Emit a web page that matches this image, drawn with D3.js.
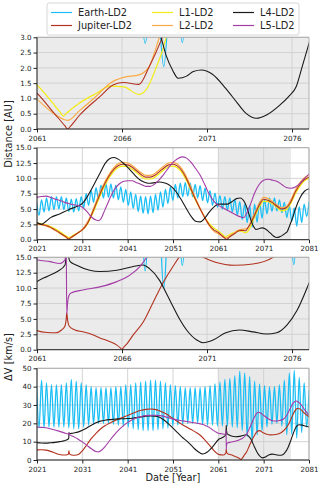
<!DOCTYPE html>
<html>
<head>
<meta charset="utf-8">
<script src="https://cdn.jsdelivr.net/npm/d3@7"></script>
<style>
  body { margin: 0; background: #fff; }
  svg { font-family: "DejaVu Sans", sans-serif; display: block; }
</style>
</head>
<body>
<div id="chart"></div>
<script>
/* distance and delta-v to the LD2 targets, full run and zoomed window */

let width = 321,
    height = 488,
    left = 37,
    right = 309;

const names = ["Earth-LD2", "Jupiter-LD2", "L1-LD2", "L2-LD2", "L4-LD2", "L5-LD2"];
const colors = ["#1cbff5", "#b2321f", "#f3ec12", "#fbab45", "#1a1a1a", "#a33ca6"];

const zoomYears = [2061, 2066, 2071, 2076];
const fullYears = [2021, 2031, 2041, 2051, 2061, 2071, 2081];
const zoomDomain = [2061, 2077];
const fullDomain = [2021, 2081];
const shade = [2061, 2077];
const distZoomTicks = [0, 0.5, 1, 1.5, 2, 2.5, 3];
const distTicks = [0, 2.5, 5, 7.5, 10, 12.5, 15];
const dvTicks = [0, 10, 20, 30, 40, 50];

// Earth: alternating peak / trough every half synodic period
const earthStart = 2020.91, earthStep = 0.5465;
const earthDist = [
  6.0, 4.0, 6.5, 4.5, 6.8, 4.7, 7.0, 4.9, 7.0, 5.0, 7.0, 4.9, 6.8, 4.6, 6.6, 4.5,
  6.7, 4.7, 7.0, 5.2, 7.5, 5.6, 8.0, 6.1, 8.5, 6.5, 8.9, 6.8, 9.1, 6.9, 9.1, 6.8,
  8.9, 6.5, 8.6, 6.1, 8.2, 5.6, 7.8, 5.1, 7.4, 4.6, 7.1, 4.3, 7.0, 4.2, 7.1, 4.4,
  7.4, 4.8, 7.8, 5.3, 8.2, 5.9, 8.6, 6.4, 9.0, 6.8, 9.2, 7.0, 9.3, 7.1, 9.2, 7.0,
  9.0, 6.8, 8.8, 6.4, 8.4, 6.0, 8.0, 5.6, 7.6, 5.3, 7.2, 5.0, 7.0, 4.8, 6.8, 4.5,
  6.6, 4.0, 6.2, 3.3, 5.8, 2.8, 5.6, 2.04, 5.8, 2.83, 6.2, 3.5, 6.6, 4.2, 6.8, 4.6,
  6.8, 4.7, 6.5, 4.4, 6.1, 3.6, 5.6, 3.0, 5.2, 2.2, 5.4, 2.8, 5.8, 3.8, 6.2
];
const earthDv = [
  40, 17.5, 43.5, 17.5, 42, 18, 41, 18, 41, 18, 41, 18, 42, 17.5, 44, 17,
  43, 17, 42, 18, 41, 19, 40, 19.5, 39.5, 20, 39.5, 20, 39.5, 20, 39.5, 19.5,
  40, 19, 40, 18.5, 41, 18, 41, 17, 42, 16.5, 42.5, 16, 43, 16, 43.5, 16,
  43.5, 16.5, 43, 17, 42, 17.5, 41, 18.5, 40.5, 19, 40, 19.5, 39.5, 20, 39.5, 20,
  39.5, 20, 39.5, 19.5, 40, 19, 40.5, 19, 41.5, 18.5, 42.5, 18.5, 44, 18.5, 44.5, 18,
  46, 17.5, 48.5, 16, 47.5, 12.8, 45.5, 10.0, 43, 13.7, 41.5, 16, 40.5, 18, 40, 19.5,
  40, 20, 41, 18.5, 43.5, 13.8, 47.5, 14, 49, 12, 45, 15, 42, 18, 38
];

// [year, distance AU]
const jupiterDist = [
  [2021, 2.6], [2022, 2.5], [2023.5, 2.2], [2025, 1.6], [2026.5, 0.9], [2027.8, 0.2], [2028, 0.03],
  [2028.2, 0.2], [2029, 0.6], [2030, 1.1], [2031, 1.6], [2032, 2.5], [2033, 4.0], [2034, 5.8],
  [2035, 7.6], [2036, 9.2], [2037, 10.5], [2038, 11.5], [2039, 12.1], [2040, 12.3], [2041, 12.2],
  [2042, 11.8], [2043, 11.2], [2044, 10.6], [2045, 10.2], [2046, 10.2], [2047, 10.5], [2048, 11.1],
  [2049, 11.7], [2050, 12.2], [2051, 12.3], [2052, 12.0], [2053, 11.2], [2054, 9.9], [2055, 8.2],
  [2056, 6.5], [2057, 5.0], [2058, 3.6], [2059, 2.4], [2060, 1.6], [2061, 1.17], [2062, 0.52],
  [2062.65, 0.1], [2062.8, 0.0], [2062.95, 0.08], [2063.5, 0.45], [2064.7, 1.06], [2065.5, 1.45],
  [2066.1, 1.52], [2067.0, 1.46], [2067.6, 2.04], [2068.3, 2.9], [2069, 4.0], [2070, 5.6],
  [2071, 6.6], [2072, 6.4], [2073, 6.0], [2074, 5.4], [2075, 5.0], [2076, 5.2], [2077, 6.2],
  [2078, 7.8], [2079, 9.0], [2080, 9.8], [2081, 10.2]
];
const l1Dist = [
  [2021, 2.7], [2022, 2.6], [2023.5, 2.3], [2025, 1.8], [2026.5, 1.1], [2027.6, 0.5], [2028, 0.35],
  [2028.4, 0.45], [2029, 0.75], [2030, 1.15], [2031, 1.6], [2032, 2.4], [2033, 3.8], [2034, 5.5],
  [2035, 7.3], [2036, 8.9], [2037, 10.2], [2038, 11.2], [2039, 11.8], [2040, 12.0], [2041, 11.9],
  [2042, 11.5], [2043, 10.9], [2044, 10.3], [2045, 9.9], [2046, 9.9], [2047, 10.2], [2048, 10.8],
  [2049, 11.4], [2050, 11.9], [2051, 12.0], [2052, 11.7], [2053, 10.9], [2054, 9.6], [2055, 8.0],
  [2056, 6.4], [2057, 5.0], [2058, 3.7], [2059, 2.6], [2060, 1.9], [2061, 1.44], [2062, 0.8],
  [2062.4, 0.52], [2062.55, 0.42], [2062.7, 0.5], [2063.5, 0.85], [2064.5, 1.17], [2065.3, 1.4],
  [2066.1, 1.38], [2067.0, 1.13], [2067.5, 1.35], [2068.0, 2.0], [2068.4, 2.6], [2068.6, 3.0],
  [2069, 3.7], [2070, 5.3], [2071, 6.3], [2072, 6.2], [2073, 5.8], [2074, 5.2], [2075, 4.7],
  [2076, 4.9], [2077, 5.9], [2078, 7.5], [2079, 8.7], [2080, 9.6], [2081, 10.0]
];
const l2Dist = [
  [2021, 2.5], [2022, 2.4], [2023.5, 2.1], [2025, 1.5], [2026.5, 0.8], [2027.7, 0.22], [2028, 0.15],
  [2028.3, 0.22], [2029, 0.55], [2030, 1.1], [2031, 1.7], [2032, 2.7], [2033, 4.2], [2034, 6.1],
  [2035, 7.9], [2036, 9.5], [2037, 10.8], [2038, 11.8], [2039, 12.4], [2040, 12.6], [2041, 12.5],
  [2042, 12.1], [2043, 11.5], [2044, 10.9], [2045, 10.5], [2046, 10.5], [2047, 10.8], [2048, 11.4],
  [2049, 12.0], [2050, 12.5], [2051, 12.6], [2052, 12.3], [2053, 11.5], [2054, 10.2], [2055, 8.5],
  [2056, 6.7], [2057, 5.1], [2058, 3.6], [2059, 2.3], [2060, 1.4], [2061, 0.97], [2062, 0.5],
  [2062.8, 0.28], [2063.5, 0.6], [2064.5, 1.08], [2065.3, 1.5], [2066.1, 1.69], [2067.0, 1.77],
  [2067.6, 2.04], [2067.9, 2.48], [2068.2, 3.0], [2069, 4.3], [2070, 5.9], [2071, 6.9], [2072, 6.7],
  [2073, 6.2], [2074, 5.6], [2075, 5.2], [2076, 5.4], [2077, 6.5], [2078, 8.1], [2079, 9.3],
  [2080, 10.1], [2081, 10.5]
];
const l4Dist = [
  [2021, 2.8], [2022, 2.5], [2023, 3.0], [2024, 3.6], [2026, 4.2], [2028, 4.9], [2030, 5.5],
  [2031, 5.9], [2032, 6.9], [2033, 8.2], [2034, 9.6], [2035, 11.0], [2036, 12.4], [2037, 13.2],
  [2038, 13.4], [2039, 13.1], [2040, 12.5], [2041, 11.8], [2042, 11.0], [2043, 10.2], [2044, 9.6],
  [2045, 9.3], [2046, 9.2], [2047, 9.3], [2048, 9.4], [2049, 9.3], [2050, 9.0], [2051, 8.4],
  [2052, 7.5], [2053, 6.3], [2054, 5.0], [2055, 3.8], [2056, 3.0], [2057, 2.9], [2058, 3.5],
  [2059, 4.5], [2060, 5.3], [2061, 5.8], [2062, 5.8], [2063, 5.8], [2064, 6.2], [2065, 6.7],
  [2065.8, 6.8], [2066.8, 6.1], [2067.5, 4.8], [2068.0, 3.6], [2068.3, 3.0], [2068.6, 2.4],
  [2069.0, 1.9], [2069.3, 1.66], [2069.8, 1.73], [2070.2, 1.88], [2070.67, 1.93], [2071.3, 1.8],
  [2072.1, 1.33], [2072.8, 0.84], [2073.3, 0.51], [2073.9, 0.35], [2074.5, 0.46], [2075.3, 0.79],
  [2075.8, 1.06], [2076.25, 1.39], [2076.6, 2.04], [2077, 2.8], [2077.5, 3.8], [2078, 5.0],
  [2079, 6.8], [2080, 7.9], [2081, 8.3]
];
const l5Dist = [
  [2021, 6.9], [2022, 7.05], [2023, 7.1], [2024, 6.9], [2025, 6.6], [2026, 6.4], [2027, 6.1],
  [2028, 5.9], [2029, 5.7], [2030, 5.6], [2031, 5.3], [2032, 4.6], [2033, 3.7], [2034, 3.2],
  [2034.6, 3.1], [2035, 3.3], [2036, 4.9], [2037, 6.6], [2038, 8.1], [2039, 9.0], [2040, 9.5],
  [2041, 9.6], [2042, 9.6], [2043, 9.3], [2044, 9.0], [2045, 8.7], [2046, 8.7], [2047, 9.1],
  [2048, 9.8], [2049, 10.7], [2050, 11.7], [2051, 12.6], [2052, 13.2], [2053, 13.5], [2054, 13.3],
  [2055, 12.6], [2056, 11.6], [2057, 10.5], [2058, 9.0], [2059, 7.4], [2060, 6.3], [2061, 5.6],
  [2062, 5.2], [2063, 4.8], [2064, 4.4], [2065, 4.0], [2066, 3.7], [2066.6, 3.6], [2067.2, 4.2],
  [2068, 5.6], [2069, 7.6], [2070, 9.0], [2071, 9.7], [2072, 9.85], [2073, 9.7], [2074, 9.5],
  [2075, 9.0], [2076, 8.5], [2077, 8.4], [2078, 8.6], [2079, 9.2], [2080, 10.0], [2081, 10.7]
];

// [year, delta-v km/s]
const jupiterDv = [
  [2021, 5.5], [2022, 5.6], [2023, 5.4], [2024, 4.7], [2025, 3.8], [2026, 3.0], [2027, 2.7],
  [2027.9, 3.2], [2028.0, 4.2], [2028.05, 5.0], [2028.1, 4.0], [2028.3, 3.0], [2029, 2.6],
  [2029.7, 2.7], [2030.3, 3.3], [2031, 5.0], [2032, 8.3], [2033, 11.8], [2034, 14.5], [2035, 16.9],
  [2036, 18.7], [2037, 20.0], [2038, 21.2], [2039, 22.3], [2040, 23.3], [2041, 24.3], [2042, 25.3],
  [2043, 26.3], [2044, 27.1], [2045, 27.6], [2046, 27.8], [2047, 27.6], [2048, 26.9], [2049, 25.8],
  [2050, 24.3], [2051, 22.7], [2052, 21.0], [2053, 19.4], [2054, 18.0], [2055, 16.6], [2056, 15.2],
  [2057, 13.5], [2058, 11.0], [2059, 8.2], [2060, 5.3], [2060.5, 4.0], [2061, 3.1], [2061.6, 2.8],
  [2062.1, 2.76], [2062.45, 3.2], [2062.65, 3.9], [2062.72, 5.0], [2062.75, 6.0], [2062.8, 4.8],
  [2062.9, 3.8], [2063.2, 3.25], [2063.7, 2.9], [2064.2, 2.5], [2064.7, 1.9], [2065.3, 1.3],
  [2065.7, 0.75], [2065.9, 0.3], [2066.0, 0.05], [2066.1, 0.4], [2066.3, 1.0], [2066.66, 2.4],
  [2067.25, 4.5], [2067.8, 7.5], [2068.4, 10.8], [2069, 13.5], [2069.5, 15.4], [2070.1, 16.0],
  [2070.77, 15.0], [2071.5, 14.2], [2072.6, 13.7], [2073.7, 13.9], [2074.9, 15.0], [2075.8, 17.0],
  [2076.7, 20.5], [2077.5, 25.0], [2078.2, 27.8], [2078.6, 28.2], [2079.3, 27.3], [2080, 25.5],
  [2081, 23.6]
];
const l4Dv = [
  [2021, 9.5], [2022, 9.3], [2023, 9.2], [2024, 9.4], [2025, 9.6], [2026, 10.0], [2027, 10.5],
  [2027.95, 11.6], [2028.02, 12.5], [2028.05, 15.0], [2028.12, 14.3], [2028.6, 14.5], [2029, 14.7],
  [2030, 15.2], [2031, 16.2], [2032, 17.5], [2033, 19.0], [2034, 20.3], [2035, 21.2], [2036, 21.7],
  [2037, 22.0], [2038, 22.2], [2039, 22.4], [2040, 22.5], [2041, 22.6], [2042, 22.8], [2043, 23.1],
  [2044, 23.5], [2045, 23.9], [2046, 24.0], [2047, 23.9], [2048, 23.3], [2049, 21.8], [2050, 19.7],
  [2051, 17.4], [2052, 14.9], [2053, 12.5], [2054, 10.4], [2055, 8.1], [2056, 5.6], [2057, 3.8],
  [2057.6, 3.3], [2058.5, 4.2], [2059.1, 5.5], [2060, 8.0], [2061, 11.05], [2061.6, 11.9],
  [2062.2, 12.7], [2062.65, 13.75], [2062.72, 16.5], [2062.75, 19.0], [2062.8, 16.2],
  [2062.95, 14.3], [2063.3, 13.75], [2064.1, 12.9], [2064.7, 12.7], [2065.7, 12.9], [2066.66, 13.5],
  [2067.25, 13.75], [2067.6, 13.2], [2068.2, 11.3], [2068.6, 9.2], [2069.0, 7.0], [2069.4, 4.9],
  [2069.8, 3.2], [2070.4, 1.57], [2070.77, 1.14], [2071.36, 1.57], [2072.1, 2.76], [2072.9, 3.2],
  [2073.7, 2.9], [2074.5, 2.55], [2075.1, 2.76], [2075.7, 4.0], [2076.3, 6.4], [2077, 10.8],
  [2077.6, 15.0], [2078.2, 18.2], [2078.8, 19.2], [2079.5, 19.0], [2080.3, 18.4], [2081, 18.0]
];
const l5Dv = [
  [2021, 18.0], [2022, 17.8], [2023, 17.6], [2024, 17.0], [2025, 16.4], [2026, 15.6], [2027, 14.8],
  [2027.9, 14.2], [2028.05, 14.7], [2028.2, 13.8], [2029, 12.8], [2030, 11.5], [2031, 9.9],
  [2032, 8.0], [2033, 6.1], [2034, 4.6], [2034.5, 4.4], [2035, 4.9], [2036, 7.3], [2037, 10.5],
  [2038, 13.6], [2039, 16.3], [2040, 18.6], [2041, 20.5], [2042, 22.0], [2043, 23.0], [2044, 23.7],
  [2045, 24.2], [2046, 24.4], [2047, 24.4], [2048, 24.2], [2049, 23.8], [2050, 23.1], [2051, 22.3],
  [2052, 21.8], [2053, 21.4], [2054, 21.0], [2055, 20.6], [2056, 20.2], [2057, 19.7], [2058, 19.0],
  [2059, 17.8], [2060, 16.0], [2061, 14.6], [2061.76, 14.3], [2062.35, 14.0], [2062.65, 14.6],
  [2062.72, 16.5], [2062.75, 5.8], [2062.8, 7.6], [2062.88, 8.8], [2063.0, 9.2], [2063.7, 9.7],
  [2064.7, 10.2], [2065.7, 11.05], [2066.46, 12.1], [2067.05, 13.5], [2067.45, 15.0], [2068, 18.0],
  [2068.7, 22.0], [2069.4, 25.3], [2069.8, 26.0], [2070.4, 25.5], [2070.9, 24.5], [2072, 22.5],
  [2073, 21.4], [2073.8, 21.2], [2074.5, 21.5], [2075.3, 22.2], [2076, 24.0], [2076.7, 27.3],
  [2077.5, 31.0], [2078.2, 32.2], [2078.7, 31.5], [2079.3, 30.0], [2080, 27.5], [2081, 24.5]
];

const pairs = a => a.map(([t, v]) => ({ t, v }));
const earthSeries = vals => vals.map((v, i) => ({ t: earthStart + i * earthStep, v }));

// drawing order (Earth underneath)
const series = {
  dist: [
    { c: 0, data: earthSeries(earthDist), w: 1.3 },
    { c: 2, data: pairs(l1Dist), w: 1.2 },
    { c: 3, data: pairs(l2Dist), w: 1.2 },
    { c: 1, data: pairs(jupiterDist), w: 1.1 },
    { c: 4, data: pairs(l4Dist), w: 1.1 },
    { c: 5, data: pairs(l5Dist), w: 1.1 }
  ],
  dv: [
    { c: 0, data: earthSeries(earthDv), w: 1.3 },
    { c: 1, data: pairs(jupiterDv), w: 1.1 },
    { c: 4, data: pairs(l4Dv), w: 1.1 },
    { c: 5, data: pairs(l5Dv), w: 1.1 }
  ]
};

const panels = [
  { top: 37.3, bottom: 129, xd: zoomDomain, xt: zoomYears, yd: [0, 3], yt: distZoomTicks, fmt: ".1f", q: "dist", zoom: true },
  { top: 147.7, bottom: 239.7, xd: fullDomain, xt: fullYears, yd: [0, 15], yt: distTicks, fmt: ".1f", q: "dist", zoom: false },
  { top: 257.3, bottom: 349.7, xd: zoomDomain, xt: zoomYears, yd: [0, 15], yt: distTicks, fmt: ".1f", q: "dv", zoom: true },
  { top: 368.3, bottom: 460, xd: fullDomain, xt: fullYears, yd: [0, 50], yt: dvTicks, fmt: "d", q: "dv", zoom: false }
];

const svg = d3.select("#chart")
  .append("svg")
  .attr("width", width)
  .attr("height", height);

panels.forEach((p, i) => {
  let x = d3.scaleLinear().domain(p.xd).range([left, right]);
  let y = d3.scaleLinear().domain(p.yd).range([p.bottom, p.top]);

  let g = svg.append("g");

  svg.append("clipPath")
    .attr("id", "clip" + i)
    .append("rect")
    .attr("x", left).attr("y", p.top)
    .attr("width", right - left).attr("height", p.bottom - p.top);

  // background: whole panel grey when zoomed, otherwise only the zoom window
  if (p.zoom) {
    g.append("rect")
      .attr("x", left).attr("y", p.top)
      .attr("width", right - left).attr("height", p.bottom - p.top)
      .attr("fill", "#ebebeb");
  } else {
    g.append("rect")
      .attr("x", x(shade[0])).attr("y", p.top)
      .attr("width", x(shade[1]) - x(shade[0])).attr("height", p.bottom - p.top)
      .attr("fill", "#e9e9e9");
  }

  // grid
  g.append("g").selectAll("line")
    .data(p.xt)
    .join("line")
    .attr("x1", d => x(d)).attr("x2", d => x(d))
    .attr("y1", p.top).attr("y2", p.bottom)
    .attr("stroke", "#cfcfcf").attr("stroke-width", 0.9);

  g.append("g").selectAll("line")
    .data(p.yt)
    .join("line")
    .attr("x1", left).attr("x2", right)
    .attr("y1", d => y(d)).attr("y2", d => y(d))
    .attr("stroke", "#cfcfcf").attr("stroke-width", 0.9);

  let line = d3.line()
    .x(d => x(d.t))
    .y(d => y(d.v))
    .curve(d3.curveMonotoneX);

  let lines = g.append("g").attr("clip-path", `url(#clip${i})`);
  for (let s of series[p.q]) {
    lines.append("path")
      .datum(s.data)
      .attr("fill", "none")
      .attr("stroke", colors[s.c])
      .attr("stroke-width", s.w)
      .attr("stroke-linejoin", "round")
      .attr("d", line);
  }

  // spines
  g.append("path")
    .attr("d", `M${left},${p.top}H${right}V${p.bottom}`)
    .attr("fill", "none").attr("stroke", "#a8a8a8").attr("stroke-width", 0.9);
  g.append("path")
    .attr("d", `M${left},${p.top}V${p.bottom}H${right}`)
    .attr("fill", "none").attr("stroke", "#222").attr("stroke-width", 1);

  let xAxis = g.append("g")
    .attr("transform", `translate(0,${p.bottom})`)
    .call(d3.axisBottom(x).tickValues(p.xt).tickFormat(d3.format("d")).tickSize(3.5).tickPadding(3));
  let yAxis = g.append("g")
    .attr("transform", `translate(${left},0)`)
    .call(d3.axisLeft(y).tickValues(p.yt).tickFormat(d3.format(p.fmt)).tickSize(3.5).tickPadding(2));

  for (let ax of [xAxis, yAxis]) {
    ax.select(".domain").remove();
    ax.selectAll("line").attr("stroke", "#222");
    ax.selectAll("text")
      .attr("fill", "#222")
      .style("font-family", "DejaVu Sans")
      .style("font-size", "7.1px");
  }
});

// axis titles
svg.append("text")
  .text("Distance [AU]")
  .attr("transform", "translate(12,134) rotate(-90)")
  .attr("text-anchor", "middle")
  .attr("font-size", "9.8px")
  .attr("fill", "#222");

svg.append("text")
  .text("ΔV [km/s]")
  .attr("transform", "translate(12,357) rotate(-90)")
  .attr("text-anchor", "middle")
  .attr("font-size", "9.8px")
  .attr("fill", "#222");

svg.append("text")
  .text("Date [Year]")
  .attr("x", (left + right) / 2)
  .attr("y", 481)
  .attr("text-anchor", "middle")
  .attr("font-size", "9.8px")
  .attr("fill", "#222");

// legend, two rows, filled column by column
let legend = svg.append("g");
legend.append("rect")
  .attr("x", 47).attr("y", 3)
  .attr("width", 252).attr("height", 32)
  .attr("rx", 2)
  .attr("fill", "#fff")
  .attr("stroke", "#d6d6d6");

const colX = [51, 152, 233];
const rowY = [12.5, 25.5];
names.forEach((n, i) => {
  let cx = colX[Math.floor(i / 2)], cy = rowY[i % 2];
  legend.append("line")
    .attr("x1", cx).attr("x2", cx + 21)
    .attr("y1", cy).attr("y2", cy)
    .attr("stroke", colors[i]).attr("stroke-width", 1.2);
  legend.append("text")
    .text(n)
    .attr("x", cx + 27)
    .attr("y", cy)
    .attr("dominant-baseline", "middle")
    .attr("font-size", "9.8px")
    .attr("fill", "#222");
});
</script>
</body>
</html>
